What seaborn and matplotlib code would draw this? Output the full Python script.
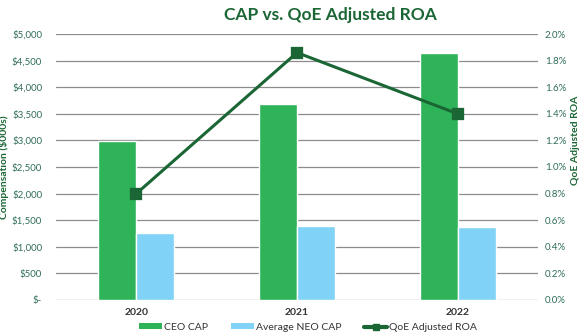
import matplotlib
matplotlib.use("Agg")
import matplotlib.pyplot as plt
from matplotlib.patches import Patch
from matplotlib.lines import Line2D
from matplotlib.ticker import FuncFormatter, MultipleLocator
import seaborn as sns
import pandas as pd

# Data ($000s and %)
years = ["2020", "2021", "2022"]
ceo_cap = [2980, 3690, 4650]
neo_cap = [1265, 1390, 1380]
qoe_roa = [0.80, 1.86, 1.40]

series_names = ["CEO CAP", "Average NEO CAP"]
line_name = "QoE Adjusted ROA"

GREEN = "#2eb359"
BLUE = "#80d3f6"
DARK = "#1a6634"
TEXT = "#2f6e55"
GRID = "#8c8c8c"

sns.set_theme(style="white")
plt.rcParams["font.family"] = ["Lato", "DejaVu Sans"]

bars = pd.DataFrame({
    "Year": years * 2,
    "Value": ceo_cap + neo_cap,
    "Series": [series_names[0]] * 3 + [series_names[1]] * 3,
})
roa = pd.DataFrame({"Year": years, "ROA": qoe_roa})

fig = plt.figure(figsize=(5.81, 3.35), dpi=100)
ax = fig.add_axes([0.0964, 0.1045, 0.8296, 0.794])

sns.barplot(data=bars, x="Year", y="Value", hue="Series", order=years,
            hue_order=series_names, palette=[GREEN, BLUE], width=0.475,
            saturation=1, ax=ax, legend=False, zorder=3)

ax.set_ylim(0, 5000)
ax.yaxis.set_major_locator(MultipleLocator(500))
ax.yaxis.set_major_formatter(FuncFormatter(lambda v, p: "$-" if v == 0 else f"${v:,.0f}"))
ax.grid(axis="y", color=GRID, lw=0.9, zorder=0)
ax.set_axisbelow(True)
for s in ax.spines.values():
    s.set_visible(False)
ax.tick_params(axis="y", length=0, pad=10, labelsize=7, labelcolor=TEXT)
ax.tick_params(axis="x", length=0, pad=6, labelsize=7.5)
for lbl in ax.get_xticklabels():
    lbl.set_fontweight("bold")
    lbl.set_color("#333333")
ax.set_xlabel("")
ax.set_ylabel("Compensation ($000s)", fontsize=7.5, fontweight="bold", color=DARK)
ax.yaxis.set_label_coords(-0.098, 0.5)

ax2 = ax.twinx()
sns.pointplot(data=roa, x="Year", y="ROA", order=years, color=DARK,
              markers="s", markersize=7, linewidth=2.2, ax=ax2)
ax2.set_ylim(0, 2.0)
ax2.yaxis.set_major_locator(MultipleLocator(0.2))
ax2.yaxis.set_major_formatter(FuncFormatter(lambda v, p: f"{v:.1f}%"))
for s in ax2.spines.values():
    s.set_visible(False)
ax2.tick_params(axis="y", length=0, pad=5, labelsize=7, labelcolor=TEXT)
ax2.set_ylabel(line_name, fontsize=7.5, fontweight="bold", color=DARK, rotation=90)
ax2.yaxis.set_label_coords(1.069, 0.6)
ax2.set_xlabel("")
ax.set_xlim(-0.5, 2.5)
ax2.set_xlim(-0.5, 2.5)

fig.text(0.568, 0.955, "CAP vs. QoE Adjusted ROA", ha="center", va="center",
         fontsize=12.5, fontweight="bold", color=DARK)

handles = [
    Patch(facecolor=GREEN, edgecolor="none"),
    Patch(facecolor=BLUE, edgecolor="none"),
    Line2D([0], [0], color=DARK, lw=3, marker="s", markersize=5),
]
fig.legend(handles, series_names + [line_name], loc="center", ncol=3,
           bbox_to_anchor=(0.53, 0.022), frameon=False, fontsize=7.5,
           handlelength=2.2, handleheight=0.5, handletextpad=0.2, columnspacing=2.2,
           labelcolor="#333333")

fig.savefig("out.png", dpi=100)
